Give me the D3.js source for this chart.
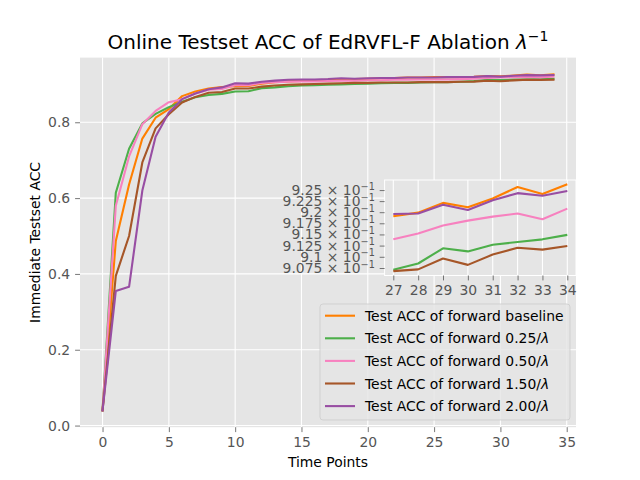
<!DOCTYPE html>
<html>
<head>
<meta charset="utf-8">
<script src="https://cdn.jsdelivr.net/npm/d3@7"></script>
<style>
  body { margin: 0; background: #fff; }
  text { font-family: "DejaVu Sans", sans-serif; }
</style>
</head>
<body>
<svg id="chart" width="640" height="480"></svg>
<script>
// x positions of the samples
const timePoints = [0, 1, 2, 3, 4, 5, 6, 7, 8, 9, 10, 11, 12, 13, 14, 15, 16, 17,
  18, 19, 20, 21, 22, 23, 24, 25, 26, 27, 28, 29, 30, 31, 32, 33, 34];

// values
const baselineAcc = [0.04, 0.487, 0.636, 0.757, 0.812, 0.835, 0.869, 0.881, 0.889, 0.893,
  0.895, 0.896, 0.902, 0.906, 0.908, 0.909, 0.910, 0.912, 0.913, 0.914, 0.915, 0.916,
  0.917, 0.918, 0.918, 0.919, 0.919, 0.9191, 0.9199, 0.9221, 0.9211, 0.9231, 0.9257,
  0.9241, 0.9263];
const fwd025Acc = [0.04, 0.614, 0.73, 0.797, 0.822, 0.840, 0.854, 0.866, 0.872, 0.875,
  0.881, 0.882, 0.890, 0.892, 0.895, 0.897, 0.898, 0.899, 0.900, 0.901, 0.902, 0.903,
  0.904, 0.904, 0.905, 0.906, 0.906, 0.9071, 0.9085, 0.9119, 0.9112, 0.9127, 0.9133,
  0.9139, 0.9149];
const fwd050Acc = [0.04, 0.58, 0.71, 0.795, 0.830, 0.853, 0.861, 0.876, 0.886, 0.888,
  0.898, 0.898, 0.904, 0.906, 0.907, 0.908, 0.908, 0.909, 0.910, 0.910, 0.911, 0.911,
  0.912, 0.912, 0.913, 0.913, 0.913, 0.9139, 0.9152, 0.9170, 0.9181, 0.9190, 0.9197,
  0.9184, 0.9208];
const fwd150Acc = [0.04, 0.395, 0.50, 0.694, 0.784, 0.821, 0.852, 0.867, 0.878, 0.880,
  0.889, 0.889, 0.894, 0.897, 0.899, 0.900, 0.901, 0.902, 0.903, 0.904, 0.904, 0.905,
  0.905, 0.905, 0.906, 0.906, 0.906, 0.9068, 0.9072, 0.9096, 0.9082, 0.9105, 0.9120,
  0.9116, 0.9124];
const fwd200Acc = [0.04, 0.355, 0.366, 0.62, 0.762, 0.826, 0.861, 0.876, 0.887, 0.892,
  0.903, 0.902, 0.907, 0.910, 0.912, 0.913, 0.913, 0.914, 0.916, 0.915, 0.916, 0.917,
  0.917, 0.918, 0.918, 0.918, 0.919, 0.9196, 0.9197, 0.9217, 0.9205, 0.9227, 0.9243,
  0.9237, 0.9248];

const seriesLabels = ["baseline", "0.25/", "0.50/", "1.50/", "2.00/"];
const seriesColors = ["#ff7f00", "#4daf4a", "#f781bf", "#a65628", "#984ea3"];

const xTicks = [0, 5, 10, 15, 20, 25, 30, 35];
const yTicks = [0.0, 0.2, 0.4, 0.6, 0.8];
const insetXTicks = [27, 28, 29, 30, 31, 32, 33, 34];
const insetYTicks = [0.9075, 0.91, 0.9125, 0.915, 0.9175, 0.92, 0.9225, 0.925];
const insetYMantissa = ["9.075", "9.1", "9.125", "9.15", "9.175", "9.2", "9.225", "9.25"];

const allSeries = [baselineAcc, fwd025Acc, fwd050Acc, fwd150Acc, fwd200Acc];

const svg = d3.select("#chart");
const TICK_COLOR = "#555555";
const BG = "#E5E5E5";
const FONT = 13.9;

// main axes box (matplotlib default subplot params)
const box = { left: 80, right: 576, top: 57.6, bottom: 427.2 };

function padded(lo, hi, frac) {
  const m = (hi - lo) * frac;
  return [lo - m, hi + m];
}

const allValues = allSeries.flat();
const x = d3.scaleLinear()
  .domain(padded(d3.min(timePoints), d3.max(timePoints), 0.05))
  .range([box.left, box.right]);
const y = d3.scaleLinear()
  .domain(padded(d3.min(allValues), d3.max(allValues), 0.05))
  .range([box.bottom, box.top]);

svg.append("rect")
  .attr("x", box.left).attr("y", box.top)
  .attr("width", box.right - box.left).attr("height", box.bottom - box.top)
  .attr("fill", BG);

function styleAxis(g) {
  g.select(".domain").remove();
  g.selectAll(".tick line").attr("stroke", TICK_COLOR).attr("stroke-width", 0.8);
  g.selectAll(".tick text").attr("fill", TICK_COLOR)
    .attr("font-size", FONT).attr("font-family", "DejaVu Sans");
}

// grid
const grid = svg.append("g").attr("stroke", "#fff").attr("stroke-width", 1.1);
grid.selectAll(".gx").data(xTicks).join("line")
  .attr("x1", (d) => x(d)).attr("x2", (d) => x(d))
  .attr("y1", box.top).attr("y2", box.bottom);
grid.selectAll(".gy").data(yTicks).join("line")
  .attr("y1", (d) => y(d)).attr("y2", (d) => y(d))
  .attr("x1", box.left).attr("x2", box.right);

svg.append("g")
  .attr("transform", `translate(0,${box.bottom})`)
  .call(d3.axisBottom(x).tickValues(xTicks).tickFormat(d3.format("d"))
    .tickSize(4.9).tickPadding(4.9))
  .call(styleAxis);

svg.append("g")
  .attr("transform", `translate(${box.left},0)`)
  .call(d3.axisLeft(y).tickValues(yTicks).tickFormat(d3.format(".1f"))
    .tickSize(4.9).tickPadding(4.9))
  .call(styleAxis);

const line = d3.line()
  .x((d, i) => x(timePoints[i]))
  .y((d) => y(d));

svg.append("g").selectAll("path")
  .data(allSeries)
  .join("path")
  .attr("d", line)
  .attr("fill", "none")
  .attr("stroke", (d, i) => seriesColors[i])
  .attr("stroke-width", 2.1)
  .attr("stroke-linejoin", "round")
  .attr("stroke-linecap", "square");

// title
const title = svg.append("text")
  .attr("x", (box.left + box.right) / 2).attr("y", 49)
  .attr("text-anchor", "middle").attr("font-size", 20).attr("fill", "#000");
title.append("tspan").text("Online Testset ACC of EdRVFL-F Ablation ");
title.append("tspan").attr("font-style", "italic").text("λ");
title.append("tspan").attr("font-size", 14).attr("dy", -8).text("−1");

svg.append("text")
  .attr("x", (box.left + box.right) / 2).attr("y", 467)
  .attr("text-anchor", "middle").attr("font-size", FONT).attr("fill", "#000")
  .text("Time Points");

svg.append("text")
  .attr("transform", `translate(40,${(box.top + box.bottom) / 2}) rotate(-90)`)
  .attr("text-anchor", "middle").attr("font-size", FONT).attr("fill", "#000")
  .text("Immediate Testset ACC");

// inset: last eight time points, log y axis
const inset = { left: 384.6, right: 576, top: 180, bottom: 275.5 };
const insetIdx = timePoints.map((t, i) => i).filter((i) => timePoints[i] >= 27);
const insetValues = allSeries.flatMap((s) => insetIdx.map((i) => s[i]));

const xi = d3.scaleLinear()
  .domain(padded(27, 34, 0.05))
  .range([inset.left, inset.right]);
const logExt = padded(Math.log(d3.min(insetValues)), Math.log(d3.max(insetValues)), 0.05);
const yi = d3.scaleLog()
  .domain(logExt.map(Math.exp))
  .range([inset.bottom, inset.top]);

svg.append("rect")
  .attr("x", inset.left).attr("y", inset.top)
  .attr("width", inset.right - inset.left).attr("height", inset.bottom - inset.top)
  .attr("fill", BG).attr("stroke", "#fff").attr("stroke-width", 1);

svg.append("g").attr("stroke", "#fff").attr("stroke-width", 1.1)
  .selectAll("line").data(insetXTicks).join("line")
  .attr("x1", (d) => xi(d)).attr("x2", (d) => xi(d))
  .attr("y1", inset.top).attr("y2", inset.bottom);

svg.append("g")
  .attr("transform", `translate(0,${inset.bottom})`)
  .call(d3.axisBottom(xi).tickValues(insetXTicks).tickFormat(d3.format("d"))
    .tickSize(4.9).tickPadding(4.9))
  .call(styleAxis);

const yAxisInset = svg.append("g")
  .attr("transform", `translate(${inset.left},0)`)
  .call(d3.axisLeft(yi).tickValues(insetYTicks).tickFormat(() => "")
    .tickSize(4.9).tickPadding(4.9))
  .call(styleAxis);

yAxisInset.selectAll(".tick text").each(function (d, i) {
  const t = d3.select(this).text(null);
  t.append("tspan").text(insetYMantissa[i] + " × 10");
  t.append("tspan").attr("font-size", 9.7).attr("dy", "-0.55em").text("−1");
});

const lineInset = d3.line()
  .x((i) => xi(timePoints[i]))
  .y((i, k, arr) => 0);

svg.append("g").selectAll("path")
  .data(allSeries)
  .join("path")
  .attr("d", (s) => d3.line()
    .x((i) => xi(timePoints[i]))
    .y((i) => yi(s[i]))(insetIdx))
  .attr("fill", "none")
  .attr("stroke", (d, i) => seriesColors[i])
  .attr("stroke-width", 2.1)
  .attr("stroke-linejoin", "round");

// legend
const legend = { left: 320, top: 304, width: 250, height: 116, row: 22.6 };
svg.append("rect")
  .attr("x", legend.left).attr("y", legend.top)
  .attr("width", legend.width).attr("height", legend.height)
  .attr("rx", 3).attr("ry", 3)
  .attr("fill", "rgba(229,229,229,0.8)")
  .attr("stroke", "rgba(204,204,204,0.8)").attr("stroke-width", 1);

const items = svg.append("g").selectAll("g")
  .data(seriesLabels)
  .join("g")
  .attr("transform", (d, i) => `translate(${legend.left},${legend.top + 11.7 + i * legend.row})`);

items.append("line")
  .attr("x1", 5).attr("x2", 35)
  .attr("stroke", (d, i) => seriesColors[i]).attr("stroke-width", 2.1);

items.append("text")
  .attr("x", 45).attr("y", 5)
  .attr("font-size", FONT).attr("fill", "#000")
  .each(function (d, i) {
    const t = d3.select(this);
    t.append("tspan").text("Test ACC of forward " + d);
    if (i > 0) t.append("tspan").attr("font-style", "italic").text("λ");
  });
</script>
</body>
</html>
